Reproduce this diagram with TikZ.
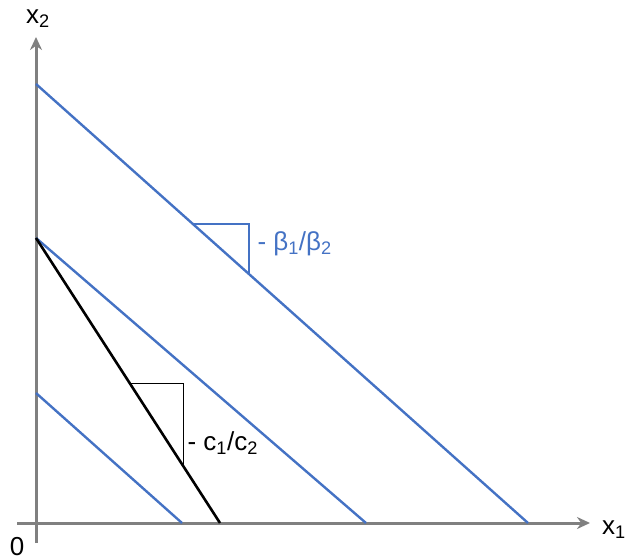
\documentclass[tikz,border=0pt]{standalone}
\usepackage{fontspec}
\setmainfont{Liberation Sans}
\usetikzlibrary{arrows.meta, calc}
\definecolor{lineblue}{RGB}{68,114,196}
\definecolor{axisgray}{RGB}{128,128,128}

\begin{document}
\begin{tikzpicture}[x=1pt, y=-1pt, font=\fontsize{26}{30}\selectfont,
  axis/.style={axisgray, line width=3pt, -{Stealth[length=13pt, width=12pt]}},
  level/.style={lineblue, line width=2.4pt},
  slope/.style={line width=1.2pt}]
  \useasboundingbox (0,0) rectangle (630,560);
  % axes
  \coordinate (O) at (36,523);
  \coordinate (xleft) at (17,523);
  \coordinate (xright) at (590,523);
  \coordinate (ybottom) at (36,543);
  \coordinate (ytop) at (36,37);
  \draw[axis] (xleft) -- (xright);
  \draw[axis] (ybottom) -- (ytop);
  \node (xonelabel) at (614,530) {x\textsubscript{1}};
  \node (xtwolabel) at (38,19) {x\textsubscript{2}};
  \node[inner sep=0pt] (zero) at (17,547) {0};
  % iso-objective lines
  \coordinate (a1) at (36,84);   \coordinate (b1) at (528,523);
  \coordinate (a2) at (36,238);  \coordinate (b2) at (366,523);
  \coordinate (a3) at (36,393);  \coordinate (b3) at (182,523);
  \draw[level] (a1) -- (b1);
  \draw[level] (a2) -- (b2);
  \draw[level] (a3) -- (b3);
  % constraint line
  \coordinate (c) at (220,523);
  \draw[black, line width=2.6pt] (a2) -- (c);
  % slope triangles
  \coordinate (p1) at ($(a1)!0.319!(b1)$);
  \coordinate (p2) at ($(a1)!0.433!(b1)$);
  \draw[slope, lineblue] (p1) -- (p1 -| p2) -- (p2);
  \node[lineblue, anchor=west] (betalabel) at (254,244) {- β\textsubscript{1}/β\textsubscript{2}};
  \coordinate (q1) at ($(a2)!0.511!(c)$);
  \coordinate (q2) at ($(a2)!0.80!(c)$);
  \draw[slope, black] (q1) -- (q1 -| q2) -- (q2);
  \node[anchor=west] (clabel) at (184,443) {- c\textsubscript{1}/c\textsubscript{2}};
\end{tikzpicture}
\end{document}
